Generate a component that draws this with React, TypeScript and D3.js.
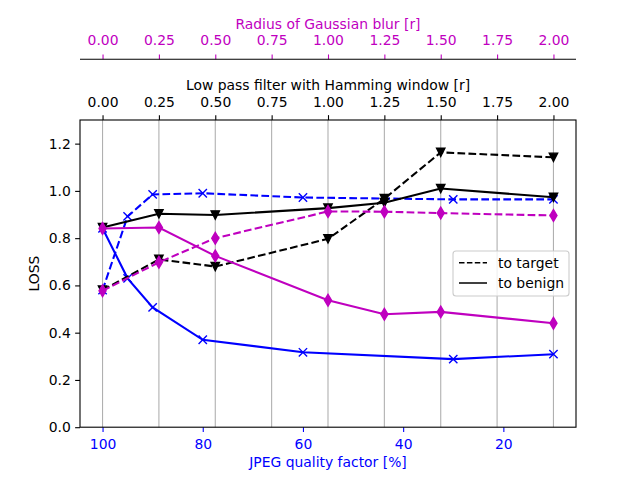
import { useEffect, useRef } from 'react';
import * as d3 from 'd3';

// JPEG compression (bottom axis)
const jpegQuality = [100, 95, 90, 80, 60, 30, 10];
const jpegTarget = [0.58, 0.892, 0.985, 0.99, 0.972, 0.964, 0.964];
const jpegBenign = [0.842, 0.63, 0.507, 0.37, 0.317, 0.288, 0.309];

// Low pass / Gaussian radius (top axes)
const radius = [0, 0.25, 0.5, 1.0, 1.25, 1.5, 2.0];
const lowpassTarget = [0.58, 0.71, 0.68, 0.797, 0.967, 1.163, 1.142];
const lowpassBenign = [0.845, 0.903, 0.898, 0.927, 0.95, 1.01, 0.973];
const gaussTarget = [0.577, 0.698, 0.8, 0.913, 0.912, 0.906, 0.896];
const gaussBenign = [0.841, 0.845, 0.725, 0.537, 0.478, 0.488, 0.44];

const jpegTicks = [100, 80, 60, 40, 20];
const radiusTicks = [0, 0.25, 0.5, 0.75, 1.0, 1.25, 1.5, 1.75, 2.0];
const lossTicks = [0, 0.2, 0.4, 0.6, 0.8, 1.0, 1.2];

const BLUE = '#0000ff';
const MAGENTA = '#bf00bf';
const FONT = '"DejaVu Sans", sans-serif';
const FS = 13.9;
const DASH = '7.7,3.3';

export default function App() {
  const svgRef = useRef<SVGSVGElement>(null);

  useEffect(() => {
    if (!svgRef.current) return;
    const svg = d3.select(svgRef.current);
    svg.selectAll('*').remove();

    const left = 80, right = 576, top = 120, bottom = 427.2;
    const gaussY = 59.3;
    const tick = 4.86;

    const x = d3.scaleLinear().domain([104.5, 5.5]).range([left, right]);
    const xr = d3.scaleLinear().domain([-0.1, 2.1]).range([left, right]);
    const y = d3.scaleLinear().domain([0, 1.3]).range([bottom, top]);

    // Grid lines
    svg.append('g')
      .selectAll('line')
      .data(radiusTicks)
      .enter()
      .append('line')
      .attr('x1', d => xr(d)).attr('x2', d => xr(d))
      .attr('y1', top).attr('y2', bottom)
      .attr('stroke', '#b0b0b0')
      .attr('stroke-width', 1.1);

    const styleAxis = (g: d3.Selection<SVGGElement, unknown, null, undefined>, color: string) => {
      g.select('.domain').remove();
      g.selectAll('line').attr('stroke', color).attr('stroke-width', 1.1);
      g.selectAll('text').attr('fill', color).attr('font-family', FONT).attr('font-size', FS);
      g.attr('font-family', FONT).attr('font-size', FS);
    };

    // Bottom axis (JPEG)
    const gb = svg.append('g')
      .attr('transform', `translate(0,${bottom})`)
      .call(d3.axisBottom(x).tickValues(jpegTicks).tickSize(tick).tickFormat(d => `${d}`));
    styleAxis(gb, BLUE);
    gb.selectAll('text').attr('dy', null).attr('y', 21.8);

    // Top axis (Hamming)
    const gt = svg.append('g')
      .attr('transform', `translate(0,${top})`)
      .call(d3.axisTop(xr).tickValues(radiusTicks).tickSize(tick).tickFormat(d3.format('.2f')));
    styleAxis(gt, '#000');
    gt.selectAll('text').attr('dy', null).attr('y', -13);

    // Top-most axis (Gaussian)
    const gg = svg.append('g')
      .attr('transform', `translate(0,${gaussY})`)
      .call(d3.axisTop(xr).tickValues(radiusTicks).tickSize(tick).tickFormat(d3.format('.2f')));
    styleAxis(gg, MAGENTA);
    gg.selectAll('text').attr('dy', null).attr('y', -14);
    svg.append('line')
      .attr('x1', left).attr('x2', right)
      .attr('y1', gaussY).attr('y2', gaussY)
      .attr('stroke', '#000').attr('stroke-width', 1.1);

    // Left axis
    const gl = svg.append('g')
      .attr('transform', `translate(${left},0)`)
      .call(d3.axisLeft(y).tickValues(lossTicks).tickSize(tick).tickPadding(4.3).tickFormat(d3.format('.1f')));
    styleAxis(gl, '#000');

    // Axis titles
    svg.append('text')
      .attr('x', (left + right) / 2).attr('y', 467)
      .attr('text-anchor', 'middle').attr('fill', BLUE)
      .attr('font-family', FONT).attr('font-size', FS)
      .text('JPEG quality factor [%]');
    svg.append('text')
      .attr('x', (left + right) / 2).attr('y', 90)
      .attr('text-anchor', 'middle').attr('fill', '#000')
      .attr('font-family', FONT).attr('font-size', FS)
      .text('Low pass filter with Hamming window [r]');
    svg.append('text')
      .attr('x', (left + right) / 2).attr('y', 28.5)
      .attr('text-anchor', 'middle').attr('fill', MAGENTA)
      .attr('font-family', FONT).attr('font-size', FS)
      .text('Radius of Gaussian blur [r]');
    svg.append('text')
      .attr('transform', `translate(39,${(top + bottom) / 2}) rotate(-90)`)
      .attr('text-anchor', 'middle').attr('fill', '#000')
      .attr('font-family', FONT).attr('font-size', FS)
      .text('LOSS');

    // Series
    const ms = 8.33;
    const h = ms / 2;
    const markerX = `M${-h},${-h}L${h},${h}M${-h},${h}L${h},${-h}`;
    const markerV = `M0,${h}L${-h},${-h}L${h},${-h}Z`;
    const dh = 0.707 * ms, dw = 0.6 * dh;
    const markerD = `M0,${-dh}L${dw},0L0,${dh}L${-dw},0Z`;

    const series = [
      { xs: jpegQuality, ys: jpegTarget, sx: x, color: BLUE, dash: true, marker: markerX, fill: false },
      { xs: jpegQuality, ys: jpegBenign, sx: x, color: BLUE, dash: false, marker: markerX, fill: false },
      { xs: radius, ys: lowpassTarget, sx: xr, color: '#000', dash: true, marker: markerV, fill: true },
      { xs: radius, ys: lowpassBenign, sx: xr, color: '#000', dash: false, marker: markerV, fill: true },
      { xs: radius, ys: gaussTarget, sx: xr, color: MAGENTA, dash: true, marker: markerD, fill: true },
      { xs: radius, ys: gaussBenign, sx: xr, color: MAGENTA, dash: false, marker: markerD, fill: true },
    ];

    series.forEach(s => {
      const pts = s.xs.map((v, i) => [s.sx(v), y(s.ys[i])] as [number, number]);
      const g = svg.append('g');
      g.append('path')
        .attr('d', d3.line()(pts))
        .attr('fill', 'none')
        .attr('stroke', s.color)
        .attr('stroke-width', 2.08)
        .attr('stroke-dasharray', s.dash ? DASH : null);
      g.selectAll('path.m')
        .data(pts)
        .enter()
        .append('path')
        .attr('class', 'm')
        .attr('transform', d => `translate(${d[0]},${d[1]})`)
        .attr('d', s.marker)
        .attr('fill', s.fill ? s.color : 'none')
        .attr('stroke', s.color)
        .attr('stroke-width', 1.39);
    });

    // Frame
    svg.append('rect')
      .attr('x', left).attr('y', top)
      .attr('width', right - left).attr('height', bottom - top)
      .attr('fill', 'none').attr('stroke', '#000').attr('stroke-width', 1.1);

    // Legend
    const legend = svg.append('g');
    legend.append('rect')
      .attr('x', 453).attr('y', 251).attr('width', 116).attr('height', 45)
      .attr('rx', 3)
      .attr('fill', 'rgba(255,255,255,0.8)')
      .attr('stroke', '#cccccc').attr('stroke-width', 1.1);
    legend.append('line')
      .attr('x1', 459).attr('x2', 487).attr('y1', 262.7).attr('y2', 262.7)
      .attr('stroke', '#000').attr('stroke-width', 1.5).attr('stroke-dasharray', '5.5,2.4');
    legend.append('line')
      .attr('x1', 459).attr('x2', 487).attr('y1', 283).attr('y2', 283)
      .attr('stroke', '#000').attr('stroke-width', 1.5);
    legend.append('text')
      .attr('x', 498).attr('y', 267.5)
      .attr('font-family', FONT).attr('font-size', FS).attr('fill', '#000')
      .text('to target');
    legend.append('text')
      .attr('x', 498).attr('y', 288)
      .attr('font-family', FONT).attr('font-size', FS).attr('fill', '#000')
      .text('to benign');
  }, []);

  return (
    <div style={{ position: 'absolute', left: 0, top: 0 }}>
      <svg ref={svgRef} width={640} height={480} style={{ display: 'block', background: '#fff' }} />
    </div>
  );
}
